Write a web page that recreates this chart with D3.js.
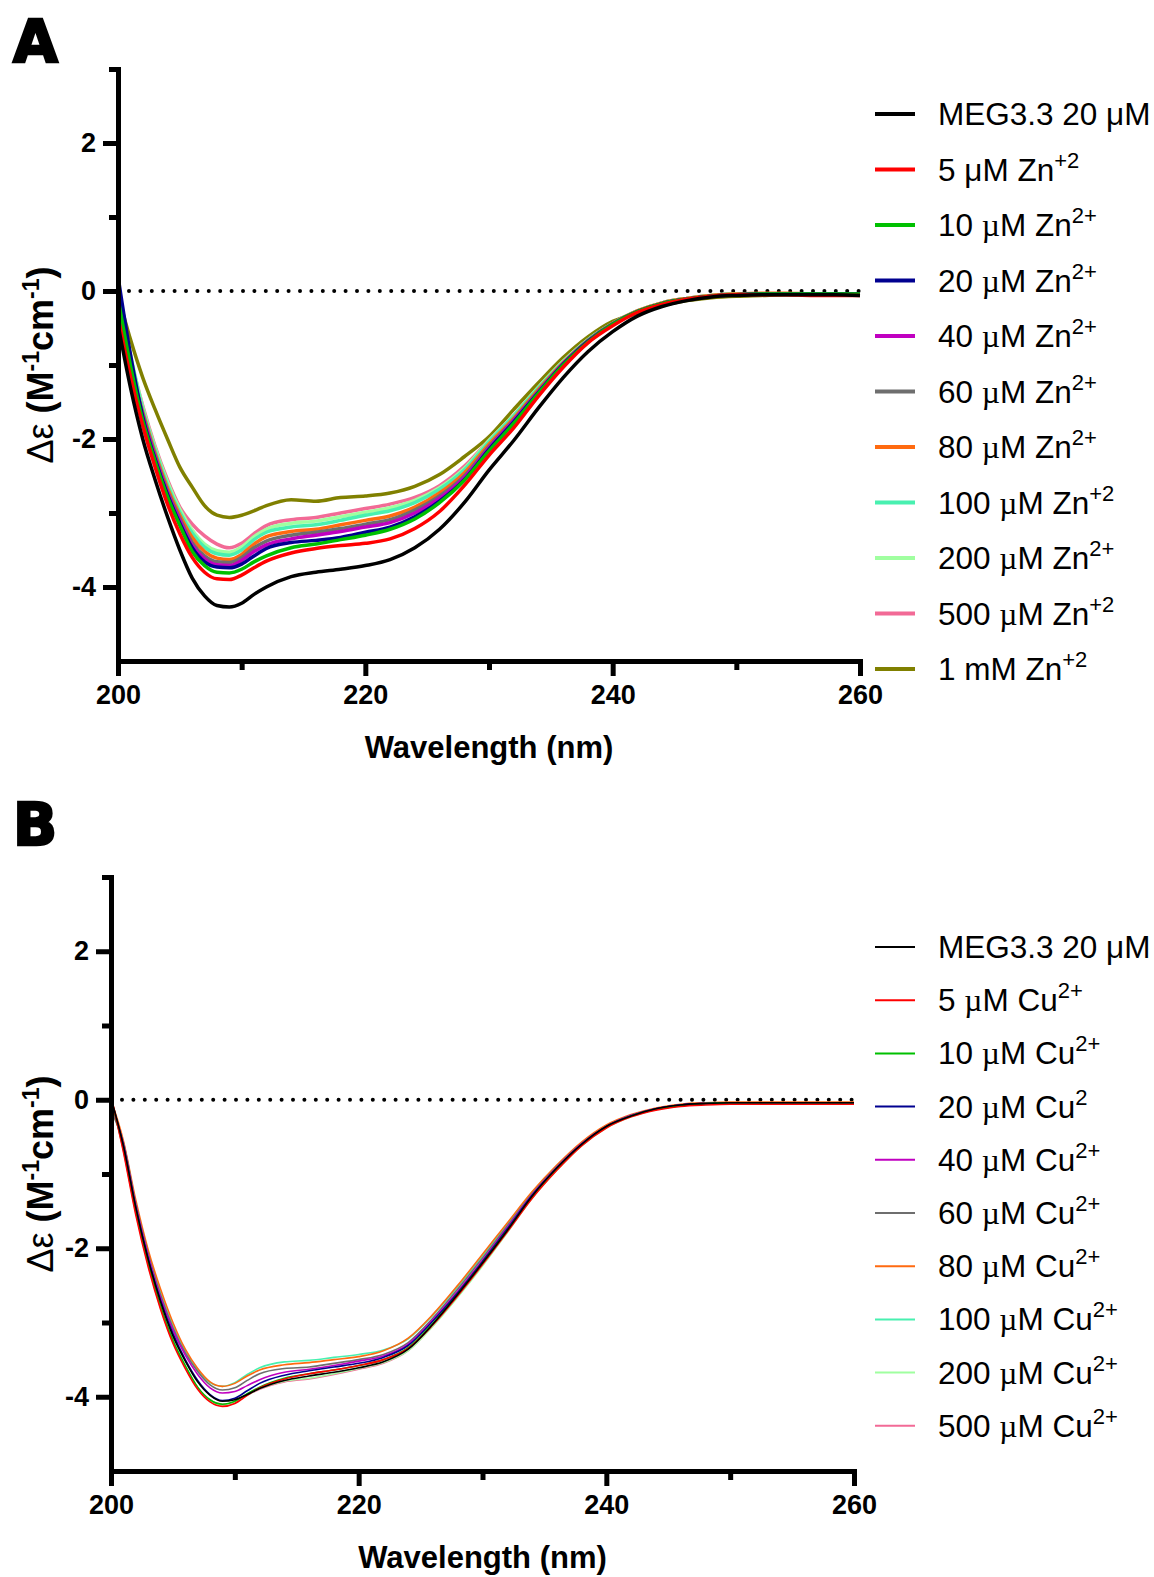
<!DOCTYPE html>
<meta charset="utf-8">
<script src="https://d3js.org/d3.v7.min.js"></script>
<style>
  body { margin: 0; background: #fff; }
  svg { font-family: "Liberation Sans", Arial, sans-serif; }
  .axis .tick text { font-weight: bold; font-size: 27px; fill: #000; }
  .axis path, .axis line { stroke: #000; stroke-width: 5; }
  .axis path { stroke-linecap: square; }
  .panel-letter { font-family: "DejaVu Sans", sans-serif; font-weight: bold; font-size: 58px; stroke: #000; stroke-width: 2.5; }
  .axis-title { font-weight: bold; font-size: 31px; }
  .y-title { font-weight: bold; font-size: 36px; }
  .legends { font-size: 31.5px; }
</style>
<div id="my_dataviz"></div>
<script>

// wavelength grid (nm) shared by every spectrum
const wavelengths = [200,201,202,203,204,205,206,207,208,209,210,211,212,214,216,218,220,222,224,226,228,230,232,234,236,238,240,242,244,246,248,250,252,254,256,258,260];

// Panel A : Zn titration (delta epsilon, M-1 cm-1)
const znMEG  = [-0.45,-1.30,-2.00,-2.55,-3.05,-3.50,-3.88,-4.12,-4.25,-4.27,-4.22,-4.10,-4.00,-3.86,-3.80,-3.76,-3.71,-3.63,-3.47,-3.22,-2.86,-2.42,-2.02,-1.58,-1.17,-0.82,-0.55,-0.34,-0.21,-0.13,-0.08,-0.06,-0.05,-0.05,-0.05,-0.05,-0.06];
const zn5    = [-0.35,-1.15,-1.82,-2.38,-2.88,-3.28,-3.60,-3.80,-3.89,-3.90,-3.84,-3.74,-3.65,-3.54,-3.48,-3.44,-3.41,-3.35,-3.21,-2.98,-2.63,-2.22,-1.85,-1.42,-1.03,-0.70,-0.47,-0.29,-0.18,-0.11,-0.07,-0.05,-0.05,-0.05,-0.06,-0.06,-0.06];
const zn10   = [-0.10,-1.00,-1.75,-2.30,-2.78,-3.17,-3.52,-3.71,-3.80,-3.81,-3.76,-3.66,-3.58,-3.47,-3.42,-3.36,-3.30,-3.22,-3.08,-2.86,-2.56,-2.16,-1.79,-1.38,-1.00,-0.69,-0.45,-0.28,-0.17,-0.11,-0.07,-0.05,-0.04,-0.04,-0.04,-0.04,-0.04];
const zn20   = [0.20,-0.85,-1.70,-2.27,-2.75,-3.14,-3.47,-3.66,-3.73,-3.74,-3.69,-3.58,-3.48,-3.40,-3.37,-3.33,-3.26,-3.19,-3.05,-2.84,-2.55,-2.14,-1.77,-1.37,-0.99,-0.68,-0.45,-0.28,-0.17,-0.11,-0.07,-0.05,-0.04,-0.04,-0.04,-0.04,-0.04];
const zn40   = [-0.10,-0.95,-1.68,-2.24,-2.72,-3.10,-3.44,-3.62,-3.70,-3.71,-3.64,-3.52,-3.43,-3.35,-3.30,-3.25,-3.19,-3.13,-3.00,-2.80,-2.52,-2.12,-1.75,-1.36,-0.98,-0.68,-0.45,-0.28,-0.17,-0.11,-0.07,-0.05,-0.04,-0.04,-0.04,-0.04,-0.04];
const zn60   = [-0.20,-1.00,-1.66,-2.22,-2.70,-3.07,-3.40,-3.58,-3.66,-3.67,-3.60,-3.47,-3.38,-3.30,-3.26,-3.21,-3.15,-3.09,-2.96,-2.77,-2.50,-2.10,-1.74,-1.35,-0.98,-0.67,-0.44,-0.28,-0.17,-0.11,-0.07,-0.05,-0.04,-0.04,-0.04,-0.04,-0.04];
const zn80   = [-0.55,-1.05,-1.64,-2.19,-2.66,-3.03,-3.33,-3.52,-3.61,-3.63,-3.56,-3.42,-3.32,-3.25,-3.22,-3.16,-3.10,-3.04,-2.92,-2.73,-2.46,-2.07,-1.72,-1.33,-0.97,-0.67,-0.44,-0.27,-0.16,-0.10,-0.06,-0.04,-0.03,-0.03,-0.04,-0.04,-0.04];
const zn100  = [-0.05,-0.88,-1.60,-2.15,-2.62,-2.99,-3.27,-3.46,-3.55,-3.57,-3.50,-3.36,-3.26,-3.19,-3.16,-3.10,-3.03,-2.97,-2.86,-2.68,-2.42,-2.04,-1.69,-1.31,-0.96,-0.66,-0.44,-0.27,-0.16,-0.10,-0.06,-0.04,-0.04,-0.04,-0.04,-0.04,-0.04];
const zn200  = [0.00,-0.85,-1.57,-2.12,-2.58,-2.95,-3.23,-3.42,-3.51,-3.53,-3.46,-3.32,-3.22,-3.14,-3.11,-3.05,-2.99,-2.93,-2.83,-2.66,-2.40,-2.02,-1.68,-1.30,-0.95,-0.66,-0.44,-0.27,-0.16,-0.10,-0.06,-0.04,-0.04,-0.04,-0.04,-0.04,-0.04];
const zn500  = [-0.10,-0.90,-1.55,-2.10,-2.55,-2.92,-3.15,-3.31,-3.42,-3.47,-3.41,-3.28,-3.17,-3.09,-3.06,-3.00,-2.94,-2.88,-2.79,-2.63,-2.37,-2.02,-1.68,-1.30,-0.95,-0.66,-0.44,-0.27,-0.16,-0.10,-0.06,-0.04,-0.04,-0.04,-0.04,-0.04,-0.04];
const zn1mM  = [-0.05,-0.65,-1.17,-1.60,-2.00,-2.38,-2.65,-2.90,-3.03,-3.06,-3.03,-2.97,-2.90,-2.82,-2.84,-2.79,-2.77,-2.73,-2.64,-2.48,-2.24,-1.97,-1.60,-1.24,-0.90,-0.62,-0.41,-0.30,-0.20,-0.13,-0.09,-0.07,-0.06,-0.05,-0.05,-0.04,-0.04];

const znLabels = ["MEG3.3 20 μM", "5 μM Zn", "10 µM Zn", "20 µM Zn", "40 µM Zn", "60 µM Zn", "80 µM Zn", "100 µM Zn", "200 µM Zn", "500 µM Zn", "1 mM Zn"];
const znSup    = ["", "+2", "2+", "2+", "2+", "2+", "2+", "+2", "2+", "+2", "+2"];

// Panel B : Cu titration
const cuMEG  = [0.02,-0.62,-1.45,-2.15,-2.72,-3.18,-3.52,-3.80,-3.98,-4.06,-4.04,-3.97,-3.89,-3.78,-3.72,-3.67,-3.61,-3.53,-3.36,-3.02,-2.62,-2.20,-1.76,-1.30,-0.92,-0.60,-0.36,-0.22,-0.12,-0.07,-0.05,-0.04,-0.04,-0.04,-0.04,-0.04,-0.04];
const cu5    = [0.05,-0.70,-1.55,-2.25,-2.82,-3.28,-3.62,-3.90,-4.07,-4.13,-4.09,-3.98,-3.88,-3.76,-3.69,-3.64,-3.58,-3.50,-3.35,-3.03,-2.64,-2.22,-1.78,-1.33,-0.95,-0.62,-0.38,-0.23,-0.14,-0.09,-0.07,-0.06,-0.06,-0.06,-0.06,-0.06,-0.06];
const cu10   = [0.00,-0.66,-1.50,-2.20,-2.78,-3.24,-3.58,-3.87,-4.04,-4.10,-4.06,-3.96,-3.87,-3.75,-3.69,-3.64,-3.58,-3.50,-3.34,-3.01,-2.62,-2.20,-1.76,-1.31,-0.93,-0.61,-0.37,-0.22,-0.13,-0.08,-0.05,-0.04,-0.04,-0.04,-0.04,-0.04,-0.04];
const cu20   = [0.00,-0.62,-1.45,-2.14,-2.70,-3.15,-3.50,-3.78,-3.97,-4.05,-4.02,-3.92,-3.82,-3.71,-3.65,-3.60,-3.55,-3.47,-3.31,-2.98,-2.60,-2.18,-1.74,-1.29,-0.92,-0.60,-0.36,-0.22,-0.12,-0.07,-0.05,-0.04,-0.04,-0.04,-0.04,-0.04,-0.04];
const cu40   = [-0.05,-0.60,-1.42,-2.10,-2.66,-3.10,-3.44,-3.70,-3.88,-3.95,-3.93,-3.85,-3.77,-3.67,-3.63,-3.58,-3.52,-3.45,-3.29,-2.96,-2.58,-2.16,-1.72,-1.28,-0.91,-0.59,-0.36,-0.21,-0.12,-0.07,-0.05,-0.04,-0.04,-0.04,-0.04,-0.04,-0.04];
const cu60   = [-0.15,-0.58,-1.40,-2.08,-2.63,-3.07,-3.41,-3.66,-3.84,-3.91,-3.88,-3.78,-3.69,-3.62,-3.60,-3.55,-3.50,-3.43,-3.27,-2.94,-2.55,-2.13,-1.70,-1.27,-0.90,-0.59,-0.36,-0.21,-0.12,-0.07,-0.05,-0.04,-0.04,-0.04,-0.04,-0.04,-0.04];
const cu80   = [0.00,-0.55,-1.35,-2.02,-2.55,-3.00,-3.36,-3.62,-3.80,-3.86,-3.82,-3.72,-3.64,-3.57,-3.54,-3.50,-3.46,-3.38,-3.21,-2.89,-2.50,-2.08,-1.66,-1.24,-0.88,-0.57,-0.34,-0.20,-0.11,-0.06,-0.04,-0.03,-0.03,-0.03,-0.03,-0.03,-0.03];
const cu100  = [-0.05,-0.58,-1.40,-2.07,-2.60,-3.04,-3.38,-3.64,-3.81,-3.86,-3.81,-3.70,-3.61,-3.53,-3.51,-3.47,-3.43,-3.37,-3.22,-2.90,-2.52,-2.10,-1.68,-1.25,-0.89,-0.58,-0.35,-0.21,-0.12,-0.07,-0.05,-0.04,-0.04,-0.04,-0.04,-0.04,-0.04];
const cu200  = [0.00,-0.66,-1.50,-2.20,-2.78,-3.24,-3.59,-3.88,-4.06,-4.12,-4.08,-3.98,-3.89,-3.79,-3.75,-3.69,-3.62,-3.54,-3.38,-3.05,-2.66,-2.24,-1.79,-1.33,-0.95,-0.62,-0.38,-0.23,-0.13,-0.08,-0.05,-0.04,-0.04,-0.04,-0.04,-0.04,-0.04];
const cu500  = [0.00,-0.68,-1.52,-2.22,-2.80,-3.26,-3.60,-3.88,-4.05,-4.10,-4.07,-3.98,-3.90,-3.80,-3.76,-3.70,-3.63,-3.55,-3.38,-3.04,-2.64,-2.22,-1.77,-1.32,-0.94,-0.61,-0.37,-0.22,-0.13,-0.08,-0.05,-0.04,-0.04,-0.04,-0.04,-0.04,-0.04];

const cuLabels = ["MEG3.3 20 μM", "5 µM Cu", "10 µM Cu", "20 µM Cu", "40 µM Cu", "60 µM Cu", "80 µM Cu", "100 µM Cu", "200 µM Cu", "500 µM Cu"];
const cuSup    = ["", "2+", "2+", "2", "2+", "2+", "2+", "2+", "2+", "2+"];

// axis ticks
const xMajor = [200, 220, 240, 260];
const xMinor = [210, 230, 250];
const yMajor = [-4, -2, 0, 2];
const yMinor = [-3, -1, 1, 3];

const palette = ["#000000", "#ff0000", "#00c000", "#000090", "#c000c0", "#6e6e6e", "#ff6a10", "#48f0b0", "#a0ffa0", "#f26a96", "#808000"];

const svg = d3.select("#my_dataviz")
  .append("svg")
    .attr("width", 1154)
    .attr("height", 1577)
    .style("background-color", "#fff");

function drawPanel(p) {
  var x = d3.scaleLinear().domain([200, 260]).range([p.left, p.right]);
  var y = d3.scaleLinear().domain([-5, 3]).range([p.bottom, p.top]);

  var g = svg.append("g");

  // panel letter
  g.append("text")
    .attr("class", "panel-letter")
    .attr("x", 13)
    .attr("y", p.letterY)
    .text(p.letter);

  // zero line (dotted)
  g.append("line")
    .attr("x1", x(200) + 11).attr("x2", x(260))
    .attr("y1", y(0)).attr("y2", y(0))
    .attr("stroke", "#000")
    .attr("stroke-width", 4)
    .attr("stroke-linecap", "round")
    .attr("stroke-dasharray", "0,11.4");

  // spectra, last series drawn first so the reference ends on top
  var line = d3.line()
    .x(function(d) { return x(d[0]); })
    .y(function(d) { return y(d[1]); })
    .curve(d3.curveMonotoneX);

  var series = p.series.map(function(vals, i) {
    return { id: i, pts: wavelengths.map(function(w, j) { return [w, vals[j]]; }) };
  });

  g.append("g")
    .selectAll("path")
    .data(series.slice().reverse())
    .enter()
    .append("path")
      .attr("d", function(d) { return line(d.pts); })
      .attr("fill", "none")
      .attr("stroke", function(d) { return palette[d.id]; })
      .attr("stroke-width", p.lineWidth)
      .attr("stroke-linejoin", "round");

  // axes
  g.append("g").attr("class", "axis")
    .attr("transform", "translate(" + p.left + ",0)")
    .call(d3.axisLeft(y).tickValues(yMinor).tickSize(9).tickSizeOuter(0).tickFormat(""));
  g.append("g").attr("class", "axis")
    .attr("transform", "translate(" + p.left + ",0)")
    .call(d3.axisLeft(y).tickValues(yMajor).tickSize(15).tickSizeOuter(0).tickPadding(7)
      .tickFormat(function(d) { return String(d); }));

  g.append("g").attr("class", "axis")
    .attr("transform", "translate(0," + p.bottom + ")")
    .call(d3.axisBottom(x).tickValues(xMinor).tickSize(9).tickSizeOuter(0).tickFormat(""));
  g.append("g").attr("class", "axis")
    .attr("transform", "translate(0," + p.bottom + ")")
    .call(d3.axisBottom(x).tickValues(xMajor).tickSize(15).tickSizeOuter(0).tickPadding(9)
      .tickFormat(function(d) { return String(d); }));

  // axis titles
  g.append("text")
    .attr("class", "axis-title")
    .attr("x", (p.left + p.right) / 2)
    .attr("y", p.bottom + 97)
    .attr("text-anchor", "middle")
    .text("Wavelength (nm)");

  var yt = g.append("text")
    .attr("class", "y-title")
    .attr("text-anchor", "middle")
    .attr("transform", "translate(53," + ((p.top + p.bottom) / 2) + ") rotate(-90)");
  yt.append("tspan").style("font-weight", "normal").text("Δε ");
  yt.append("tspan").text("(M");
  yt.append("tspan").attr("font-size", 23).attr("dy", -14).text("-1");
  yt.append("tspan").attr("dy", 14).text("cm");
  yt.append("tspan").attr("font-size", 23).attr("dy", -14).text("-1");
  yt.append("tspan").attr("dy", 14).text(")");

  // legend
  var legend = g.append("g")
    .selectAll(".legends")
    .data(p.labels)
    .enter()
    .append("g")
      .classed("legends", true)
      .attr("transform", function(d, i) { return "translate(875," + (p.legendY + i * p.legendStep) + ")"; });

  legend.append("line")
    .attr("x1", 0).attr("x2", 40)
    .attr("stroke", function(d, i) { return palette[i]; })
    .attr("stroke-width", p.legendWidth);

  var lt = legend.append("text")
    .attr("x", 63)
    .attr("y", 11);
  lt.each(function(d, i) {
    var t = d3.select(this);
    // micro signs from the symbol font are set in a serif face
    d.split(/(µ)/).forEach(function(part) {
      if (part === "") return;
      var s = t.append("tspan").text(part);
      if (part === "µ") s.style("font-family", "'Liberation Serif', serif");
    });
    if (p.sups[i]) t.append("tspan").attr("font-size", 22).attr("dy", -13).text(p.sups[i]);
  });
}

drawPanel({
  letter: "A", letterY: 62,
  left: 118, right: 860, top: 69, bottom: 661,
  series: [znMEG, zn5, zn10, zn20, zn40, zn60, zn80, zn100, zn200, zn500, zn1mM],
  labels: znLabels, sups: znSup,
  lineWidth: 3.5, legendWidth: 4,
  legendY: 114, legendStep: 55.5
});

drawPanel({
  letter: "B", letterY: 845,
  left: 111, right: 854, top: 877, bottom: 1471,
  series: [cuMEG, cu5, cu10, cu20, cu40, cu60, cu80, cu100, cu200, cu500],
  labels: cuLabels, sups: cuSup,
  lineWidth: 1.6, legendWidth: 2,
  legendY: 947, legendStep: 53.2
});

</script>
